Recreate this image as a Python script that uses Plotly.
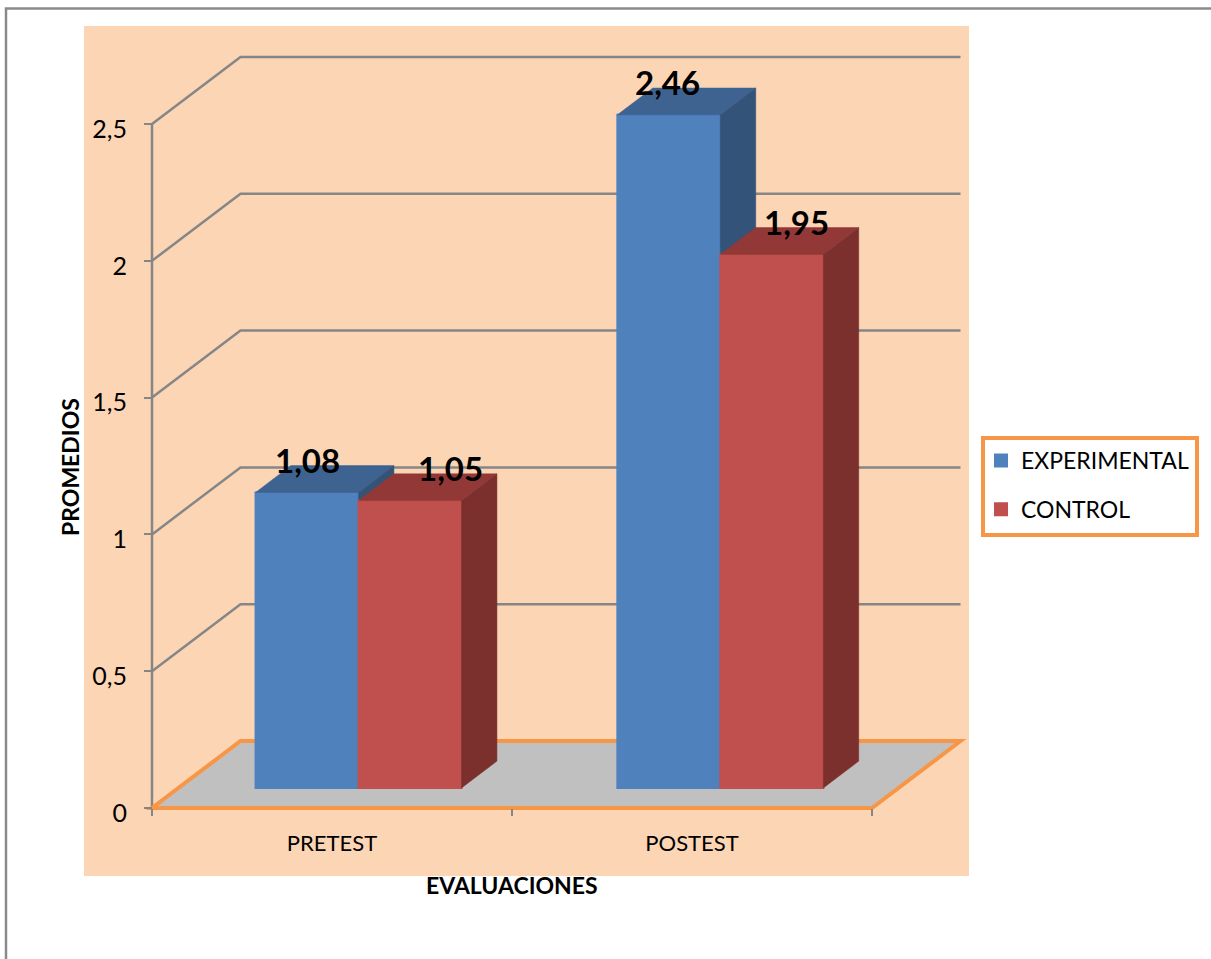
import plotly.graph_objects as go

# Data
categories = ["PRETEST", "POSTEST"]
series_names = ["EXPERIMENTAL", "CONTROL"]
experimental = [1.08, 2.46]
control = [1.05, 1.95]
value_ticks = [0, 0.5, 1, 1.5, 2, 2.5]

# Canvas and plot box, in pixels
W, H = 1211, 959
LEFT, RIGHT, BOTTOM, TOP = 152, 872, 808, 124
UNIT_X = (RIGHT - LEFT) / 2
UNIT_Y = (BOTTOM - TOP) / 2.5

# The axes fill the whole canvas so the oblique walls are never cut off
RANGE_X = [-LEFT / UNIT_X, (W - LEFT) / UNIT_X]
RANGE_Y = [-(H - BOTTOM) / UNIT_Y, BOTTOM / UNIT_Y]

# Oblique projection: full floor depth expressed in axis units
DEPTH_X = 88.5 / UNIT_X
DEPTH_Y = 67 / UNIT_Y
BAR_NEAR, BAR_FAR = 0.30, 0.70   # part of the floor depth that the bars occupy
BAR_W = 103 / UNIT_X

# Colours
PEACH = "#FCD5B5"
ORANGE = "#F79646"
GREY = "#868686"
FLOOR = "#C0C0C0"
BLUE = ("#4F81BD", "#3E6390", "#335378")   # front, top, side
RED = ("#C0504D", "#923937", "#7B302E")
FONT = "Lato"


def proj(x, v, d):
    """Project a point at category position x, value v and depth d onto the axes."""
    return x + d * DEPTH_X, v + d * DEPTH_Y


def path(points):
    return "M " + " L ".join(f"{x:.5f},{y:.5f}" for x, y in points) + " Z"


def fmt(v):
    return f"{v:.2f}".replace(".", ",")


def solid(name, values, colours, left_edges, xa, ya):
    """Return the front bar plus the top and side faces of one series."""
    front, top, side = colours
    near_x = [e + BAR_NEAR * DEPTH_X + BAR_W / 2 for e in left_edges]
    base = BAR_NEAR * DEPTH_Y
    traces = [go.Bar(
        x=near_x, y=values, base=[base] * len(values), width=BAR_W, name=name,
        marker=dict(color=front, line=dict(width=2, color=front)),
        legendgroup=name, xaxis=xa, yaxis=ya, hoverinfo="x+y",
    )]
    for e, v in zip(left_edges, values):
        faces = [
            ([(e, v, BAR_NEAR), (e + BAR_W, v, BAR_NEAR), (e + BAR_W, v, BAR_FAR), (e, v, BAR_FAR)], top),
            ([(e + BAR_W, 0, BAR_NEAR), (e + BAR_W, v, BAR_NEAR), (e + BAR_W, v, BAR_FAR), (e + BAR_W, 0, BAR_FAR)], side),
        ]
        for corners, colour in faces:
            pts = [proj(*c) for c in corners]
            traces.append(go.Scatter(
                x=[p[0] for p in pts] + [pts[0][0]],
                y=[p[1] for p in pts] + [pts[0][1]],
                mode="lines", fill="toself", fillcolor=colour,
                line=dict(color=colour, width=0.5),
                showlegend=False, hoverinfo="skip", xaxis=xa, yaxis=ya,
            ))
    return traces


centres = [i + 0.5 for i in range(len(categories))]
bar_centres = [0.5, 1.505]   # the second cluster sits a touch right of its tick label
fig = go.Figure()
for t in solid(series_names[0], experimental, BLUE, [c - BAR_W for c in bar_centres], "x", "y"):
    fig.add_trace(t)
# The second series sits on an overlaying axis pair so its faces cover the first one
for t in solid(series_names[1], control, RED, bar_centres, "x2", "y2"):
    fig.add_trace(t)

# Background, frame, legend box
shapes = [
    dict(type="rect", xref="paper", yref="paper", layer="below",
         x0=84 / W, x1=969 / W, y0=1 - 876 / H, y1=1 - 26 / H,
         fillcolor=PEACH, line=dict(width=0)),
    dict(type="path", xref="paper", yref="paper", layer="below",
         path=f"M {1.0},{1 - 8.5 / H} L {6 / W},{1 - 8.5 / H} L {6 / W},0",
         line=dict(color="#8A8A8A", width=2.5)),
    dict(type="rect", xref="paper", yref="paper", layer="below",
         x0=983 / W, x1=1197 / W, y0=1 - 535 / H, y1=1 - 438 / H,
         fillcolor="white", line=dict(color=ORANGE, width=4)),
    # Value axis line
    dict(type="line", xref="x", yref="y", layer="below", x0=0, x1=0,
         y0=value_ticks[0], y1=value_ticks[-1], line=dict(color=GREY, width=2.5)),
]
# Gridlines run from the axis back along the side wall, then across the back wall
for v in value_ticks[1:]:
    bx, by = proj(0, v, 1)
    ex, _ = proj(2, v, 1)
    shapes.append(dict(type="path", xref="x", yref="y", layer="below",
                       path=f"M 0,{v} L {bx:.5f},{by:.5f} L {ex:.5f},{by:.5f}",
                       line=dict(color=GREY, width=2.5)))
# Floor
shapes.append(dict(type="path", xref="x", yref="y", layer="below",
                   path=path([(0, 0), (2, 0), proj(2, 0, 1), proj(0, 0, 1)]),
                   fillcolor=FLOOR, line=dict(color=ORANGE, width=4)))

# Value labels, nudged by hand where they sit over the bars
label_shift_x = {("EXPERIMENTAL", 0): 0, ("EXPERIMENTAL", 1): -1, ("CONTROL", 0): 40, ("CONTROL", 1): 25}
annotations = []
for name, vals, edges in [(series_names[0], experimental, [c - BAR_W for c in bar_centres]),
                          (series_names[1], control, bar_centres)]:
    for i, (v, e) in enumerate(zip(vals, edges)):
        px, py = proj(e + BAR_W / 2, v, BAR_NEAR)
        annotations.append(dict(
            x=px, y=py, xref="x", yref="y", text=f"<b>{fmt(v)}</b>", showarrow=False,
            xanchor="center", yanchor="middle", xshift=label_shift_x[(name, i)], yshift=32.5,
            font=dict(family=FONT, size=33, color="black"),
        ))

# Axis titles
annotations.append(dict(
    x=512 / W, y=1 - 885 / H, xref="paper", yref="paper", text="<b>EVALUACIONES</b>",
    showarrow=False, xanchor="center", yanchor="middle",
    font=dict(family=FONT, size=23, color="black"),
))
annotations.append(dict(
    x=70 / W, y=1 - 467 / H, xref="paper", yref="paper", text="<b>PROMEDIOS</b>",
    showarrow=False, xanchor="center", yanchor="middle", textangle=-90,
    font=dict(family=FONT, size=23, color="black"),
))

fig.update_layout(
    width=W, height=H, margin=dict(l=0, r=0, t=0, b=0, pad=0),
    paper_bgcolor="white", plot_bgcolor="rgba(0,0,0,0)",
    separators=",.", barmode="overlay", shapes=shapes, annotations=annotations,
    font=dict(family=FONT, size=22, color="black"),
    legend=dict(
        x=981 / W, y=1 - 439 / H, xanchor="left", yanchor="top",
        bgcolor="rgba(0,0,0,0)", borderwidth=0, tracegroupgap=16,
        font=dict(family=FONT, size=23, color="black"), traceorder="grouped",
    ),
    xaxis=dict(
        domain=[0, 1], range=RANGE_X, anchor="free", position=1 - BOTTOM / H,
        tickmode="array", tickvals=centres, ticktext=categories, automargin=False,
        ticks="", showgrid=False, zeroline=False, showline=False, ticklabelstandoff=20,
        minor=dict(tickmode="array", tickvals=[0, 1, 2], ticks="outside", ticklen=7,
                   tickcolor=GREY, tickwidth=2, showgrid=False),
    ),
    yaxis=dict(
        domain=[0, 1], range=RANGE_Y, anchor="free", position=LEFT / W,
        tickmode="array", tickvals=value_ticks, tickfont=dict(family=FONT, size=25),
        ticks="outside", ticklen=8, tickcolor=GREY, tickwidth=2, automargin=False,
        ticklabelstandoff=12, ticklabelshift=5,
        showgrid=False, zeroline=False, showline=False,
    ),
    xaxis2=dict(domain=[0, 1], range=RANGE_X, overlaying="x", matches="x", visible=False, anchor="y2"),
    yaxis2=dict(domain=[0, 1], range=RANGE_Y, overlaying="y", matches="y", visible=False, anchor="x2"),
)

fig.write_html("out.html")
